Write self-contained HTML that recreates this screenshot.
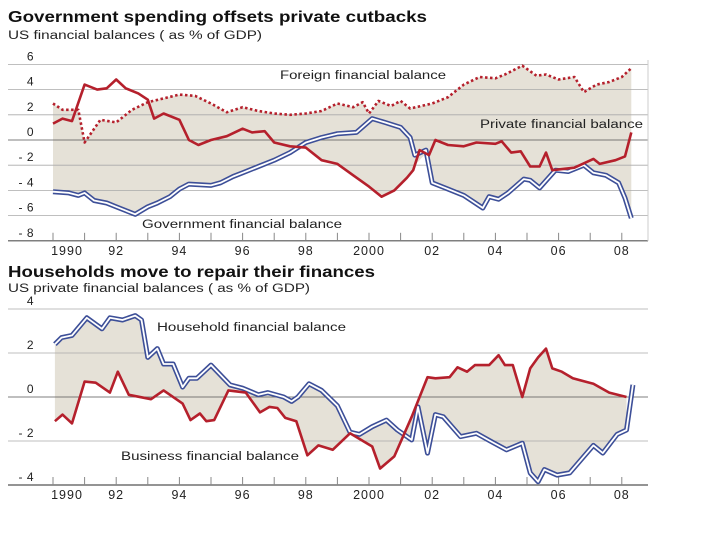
<!DOCTYPE html>
<html><head><meta charset="utf-8"><style>
body{margin:0;background:#fff;width:720px;height:540px;overflow:hidden}
svg{display:block;font-family:"Liberation Sans",sans-serif}
</style></head><body>
<svg id="c" width="720" height="540">
<text x="8" y="22" font-size="15.5" font-weight="bold" fill="#111" textLength="419" lengthAdjust="spacingAndGlyphs">Government spending offsets private cutbacks</text>
<text x="8" y="39" font-size="11.5" fill="#222" textLength="254" lengthAdjust="spacingAndGlyphs">US financial balances ( as % of GDP)</text>
<text x="8" y="277" font-size="15.5" font-weight="bold" fill="#111" textLength="367" lengthAdjust="spacingAndGlyphs">Households move to repair their finances</text>
<text x="8" y="292" font-size="11.5" fill="#222" textLength="302" lengthAdjust="spacingAndGlyphs">US private financial balances ( as % of GDP)</text>
<g id="g1"></g>
<g id="g2"></g>
</svg>
<script>
const xTicks=[1990,1992,1994,1996,1998,2000,2002,2004,2006,2008];
const xTickLabels=["1990","92","94","96","98","2000","02","04","06","08"];
const yTicks1=[6,4,2,0,-2,-4,-6,-8];
const yTicks2=[4,2,0,-2,-4];
const foreignT=[1990.0,1990.3,1990.8,1991.0,1991.5,1992.0,1992.5,1993.0,1993.5,1994.0,1994.5,1995.0,1995.5,1996.0,1996.5,1997.0,1997.5,1998.0,1998.5,1999.0,1999.5,1999.8,2000.0,2000.3,2000.7,2001.0,2001.3,2002.0,2002.5,2003.0,2003.5,2004.0,2004.3,2004.85,2005.3,2005.6,2006.0,2006.5,2006.8,2007.2,2007.6,2008.0,2008.3];
const foreignV=[2.9,2.4,2.4,-0.2,1.6,1.4,2.4,3.0,3.3,3.6,3.5,2.9,2.2,2.6,2.3,2.1,2.0,2.1,2.3,2.9,2.6,3.0,2.1,3.1,2.7,3.1,2.5,2.9,3.4,4.4,5.0,4.9,5.2,5.9,5.1,5.2,4.8,5.0,3.8,4.4,4.6,5.0,5.7];
const privateT=[1990.0,1990.3,1990.6,1991.0,1991.4,1991.7,1992.0,1992.3,1992.7,1993.0,1993.2,1993.5,1994.0,1994.3,1994.6,1995.0,1995.5,1996.0,1996.3,1996.7,1997.0,1997.5,1998.0,1998.5,1999.0,1999.5,2000.0,2000.4,2000.8,2001.2,2001.4,2001.6,2001.9,2002.1,2002.5,2003.0,2003.4,2004.0,2004.2,2004.5,2004.8,2005.1,2005.4,2005.6,2005.8,2006.5,2007.1,2007.3,2007.8,2008.1,2008.3];
const privateV=[1.3,1.7,1.5,4.4,4.0,4.1,4.8,4.1,3.7,3.2,1.7,2.1,1.6,0,-0.4,0,0.3,0.9,0.6,0.7,-0.2,-0.5,-0.6,-1.6,-1.9,-2.8,-3.7,-4.5,-4.0,-3.0,-2.4,-0.8,-1.2,0,-0.4,-0.5,-0.2,-0.3,-0.1,-1.0,-0.9,-2.1,-2.1,-1.0,-2.4,-2.2,-1.5,-1.9,-1.6,-1.3,0.6];
const govT=[1990.0,1990.5,1990.8,1991.0,1991.3,1991.7,1992.0,1992.3,1992.6,1993.0,1993.3,1993.7,1994.0,1994.3,1995.0,1995.3,1995.7,1996.0,1996.5,1997.0,1997.5,1998.0,1998.5,1999.0,1999.6,2000.1,2000.5,2001.0,2001.3,2001.45,2001.8,2002.0,2002.5,2003.0,2003.6,2003.8,2004.1,2004.4,2004.9,2005.1,2005.4,2005.9,2006.3,2006.8,2007.1,2007.5,2007.9,2008.1,2008.3];
const govV=[-4.1,-4.2,-4.4,-4.2,-4.8,-5.0,-5.3,-5.6,-5.9,-5.3,-5.0,-4.5,-3.9,-3.5,-3.6,-3.4,-2.9,-2.6,-2.1,-1.6,-1.0,-0.2,0.2,0.5,0.6,1.7,1.4,1.0,0.2,-1.2,-0.8,-3.4,-3.9,-4.4,-5.4,-4.5,-4.7,-4.2,-3.1,-3.2,-3.8,-2.4,-2.5,-2.0,-2.6,-2.8,-3.4,-4.6,-6.2];
const houseT=[1990.06,1990.27,1990.6,1991.07,1991.55,1991.8,1992.2,1992.6,1992.8,1993.0,1993.3,1993.5,1993.8,1994.1,1994.3,1994.55,1995.0,1995.6,1996.0,1996.5,1996.8,1997.3,1997.55,1997.75,1998.1,1998.5,1999.0,1999.4,1999.7,2000.1,2000.55,2000.9,2001.35,2001.55,2001.85,2002.1,2002.35,2002.9,2003.4,2003.9,2004.35,2004.85,2005.1,2005.35,2005.55,2005.95,2006.35,2007.1,2007.4,2007.85,2008.15,2008.35];
const houseV=[2.4,2.7,2.8,3.6,3.1,3.6,3.5,3.7,3.5,1.8,2.2,1.5,1.5,0.45,0.85,0.85,1.45,0.55,0.4,0.1,0.2,0,-0.2,0,0.6,0.3,-0.4,-1.6,-1.7,-1.35,-1.05,-1.5,-1.95,-0.45,-2.55,-0.8,-0.9,-1.8,-1.65,-2.05,-2.4,-2.1,-3.45,-3.85,-3.3,-3.55,-3.45,-2.2,-2.55,-1.7,-1.5,0.55];
const bizT=[1990.06,1990.3,1990.6,1991.0,1991.35,1991.8,1992.05,1992.4,1993.1,1993.5,1994.1,1994.35,1994.65,1994.85,1995.1,1995.55,1996.1,1996.55,1996.85,1997.1,1997.35,1997.7,1998.05,1998.4,1998.85,1999.4,2000.1,2000.35,2000.8,2001.35,2001.85,2002.1,2002.55,2002.8,2003.1,2003.35,2003.8,2004.1,2004.3,2004.55,2004.85,2005.1,2005.35,2005.6,2005.8,2006.1,2006.45,2007.1,2007.6,2008.15];
const bizV=[-1.1,-0.8,-1.2,0.7,0.65,0.2,1.15,0.1,-0.1,0.3,-0.3,-1.05,-0.75,-1.1,-1.05,0.3,0.2,-0.7,-0.45,-0.5,-0.95,-1.1,-2.65,-2.2,-2.4,-1.65,-2.25,-3.25,-2.7,-0.9,0.9,0.85,0.9,1.35,1.15,1.45,1.45,1.9,1.45,1.45,0,1.3,1.8,2.2,1.3,1.15,0.85,0.6,0.2,0];

const NS="http://www.w3.org/2000/svg";
const X=t=>53+(t-1990)*31.6;
const Y1=v=>140-v*12.6;
const Y2=v=>397-v*22;
function mk(tag,attrs,parent){const e=document.createElementNS(NS,tag);for(const k in attrs)e.setAttribute(k,attrs[k]);parent.appendChild(e);return e;}
function pts(T,V,Y){return T.map((t,i)=>X(t).toFixed(1)+","+Y(V[i]).toFixed(1));}
function interp(T,V,t){if(t<=T[0])return V[0];for(let i=1;i<T.length;i++){if(t<=T[i]){const f=(t-T[i-1])/(T[i]-T[i-1]);return V[i-1]+f*(V[i]-V[i-1]);}}return V[V.length-1];}
function grid(g,ticks,Y,axisV){
  ticks.forEach(v=>{
    const l=mk('line',{x1:8,x2:648,y1:Y(v),y2:Y(v),stroke:v===0||v===axisV?'#555':'#aaa','stroke-width':v===axisV?1.2:0.8},g);
    
    
    const t=mk('text',{x:34,y:Y(v)-4,'font-size':12,fill:'#222','text-anchor':'end','letter-spacing':'0.5'},g);
    t.textContent=v<0?'- '+(-v):String(v);
    
    
  });
}
function xaxis(g,yA){
  for(let yr=1990;yr<=2008;yr++){
    const l=mk('line',{x1:X(yr),x2:X(yr),y1:yA-8,y2:yA,stroke:'#888','stroke-width':1},g);
    
    
  }
  xTicks.forEach((yr,i)=>{
    const t=mk('text',{x:X(yr)+(i==0?14:0),y:yA+14,'font-size':12.5,fill:'#222','text-anchor':'middle','letter-spacing':'1'},g);
    t.textContent=xTickLabels[i];
    
    
  });
}
function band(g,TA,VA,TB,VB,Y,fn){
  const t0=Math.max(TA[0],TB[0]),t1=Math.min(TA[TA.length-1],TB[TB.length-1]);
  const ts=[...new Set([...TA,...TB])].filter(t=>t>=t0&&t<=t1).sort((a,b)=>a-b);
  const top=ts.map(t=>X(t).toFixed(1)+","+Y(interp(TA,VA,t)).toFixed(1));
  const bot=ts.slice().reverse().map(t=>X(t).toFixed(1)+","+Y(fn?fn(t):interp(TB,VB,t)).toFixed(1));
  const p=mk('polygon',{points:top.concat(bot).join(' '),fill:'#e5e1d7',stroke:'none'},g);
  
  
}
function red(g,T,V,Y,name,dash){
  const p=mk('polyline',{points:pts(T,V,Y).join(' '),fill:'none',stroke:'#b5202c','stroke-width':2.6,'stroke-dasharray':dash?'2.5,2.5':'none','stroke-linejoin':'round'},g);
  
  
}
function blue(g,T,V,Y,name){
  const gg=mk('g',{},g);
  
  
  mk('polyline',{points:pts(T,V,Y).join(' '),fill:'none',stroke:'#3d4f98','stroke-width':5,'stroke-linejoin':'round'},gg);
  mk('polyline',{points:pts(T,V,Y).join(' '),fill:'none',stroke:'#fff','stroke-width':1.8,'stroke-linejoin':'round'},gg);
}
function label(g,x,y,s,name,w){const t=mk('text',{x:x,y:y,'font-size':11.5,fill:'#222',textLength:w,lengthAdjust:'spacingAndGlyphs'},g);t.textContent=s;}

const g1=document.getElementById('g1');
band(g1,foreignT,foreignV,govT,govV,Y1,t=>Math.min(interp(govT,govV,t),interp(privateT,privateV,t)));
grid(g1,yTicks1,Y1,-8);
mk('line',{x1:648,x2:648,y1:60,y2:241,stroke:'#ccc'},g1);
xaxis(g1,Y1(-8));
red(g1,foreignT,foreignV,Y1,'foreign-balance-line',true);
blue(g1,govT,govV,Y1,'government-balance-line');
red(g1,privateT,privateV,Y1,'private-balance-line',false);
label(g1,280,79,'Foreign financial balance','foreign-label',166);
label(g1,480,128,'Private financial balance','private-label',163);
label(g1,142,228,'Government financial balance','government-label',200);

const g2=document.getElementById('g2');
band(g2,houseT,houseV,bizT,bizV,Y2);
grid(g2,yTicks2,Y2,-4);
xaxis(g2,Y2(-4));
blue(g2,houseT,houseV,Y2,'household-balance-line');
red(g2,bizT,bizV,Y2,'business-balance-line',false);
label(g2,157,331,'Household financial balance','household-label',189);
label(g2,121,460,'Business financial balance','business-label',178);
</script>
</body></html>
